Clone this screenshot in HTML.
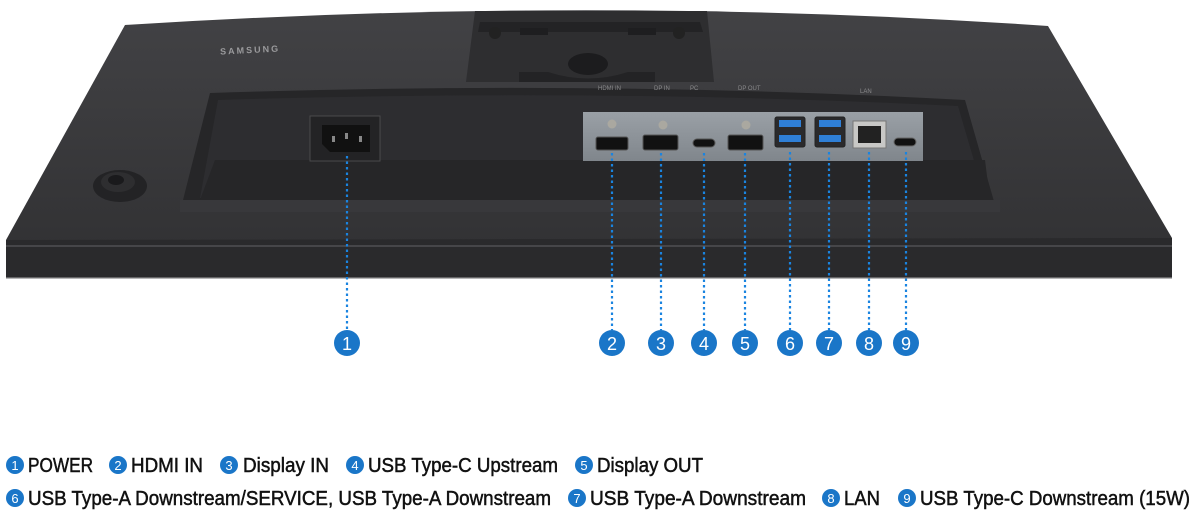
<!DOCTYPE html>
<html><head><meta charset="utf-8"><style>
html,body{margin:0;padding:0;background:#fff;width:1192px;height:520px;overflow:hidden}
svg{display:block}
text{font-family:"Liberation Sans",sans-serif}
</style></head><body>
<svg width="1192" height="520" viewBox="0 0 1192 520" xmlns="http://www.w3.org/2000/svg">
<defs>
<linearGradient id="bd" x1="0" y1="0" x2="0" y2="1"><stop offset="0" stop-color="#424245"/><stop offset="1" stop-color="#303032"/></linearGradient>
<linearGradient id="pn" x1="0" y1="0" x2="0" y2="1"><stop offset="0" stop-color="#9aa0a6"/><stop offset="1" stop-color="#80868c"/></linearGradient>
</defs>
<path d="M125,25 Q600,-5 1048,26 L1172,238 L1172,278 L6,278 L6,240 Z" fill="url(#bd)"/>
<path d="M6,240 L1172,238 L1172,278 L6,278 Z" fill="#2a2a2c"/>
<line x1="6" y1="246" x2="1172" y2="246" stroke="#505053" stroke-width="1.5"/>
<line x1="6" y1="278" x2="1172" y2="278" stroke="#8a8a8c" stroke-width="1.2"/>
<path d="M475,11 L707,11 L714,82 L466,82 Z" fill="#2e2e30"/>
<path d="M480,22 L700,22 L703,32 L478,32 Z" fill="#232325"/>
<rect x="520" y="28" width="28" height="7" fill="#1e1e20"/><rect x="628" y="28" width="28" height="7" fill="#1e1e20"/>
<circle cx="495" cy="33" r="6" fill="#222"/><circle cx="679" cy="33" r="6" fill="#222"/>
<ellipse cx="588" cy="64" rx="20" ry="11" fill="#1c1c1e"/>
<path d="M519,72 L548,72 Q588,85 628,72 L655,72 L655,82 L519,82 Z" fill="#232325"/>
<text x="220" y="52" font-size="9" fill="#9a9a9c" letter-spacing="2" font-weight="bold" transform="rotate(-3 270 48)">SAMSUNG</text>
<ellipse cx="120" cy="186" rx="27" ry="16" fill="#232325"/>
<ellipse cx="118" cy="182" rx="17" ry="10" fill="#2e2e30"/>
<ellipse cx="116" cy="180" rx="8" ry="5" fill="#1a1a1c"/>
<path d="M210,93 Q600,80 965,100 L995,205 L998,212 L180,212 Z" fill="#262628"/>
<path d="M218,100 Q600,88 958,106 L985,198 L200,198 Z" fill="#2d2d30"/>
<path d="M215,160 L985,160 L990,200 L200,200 Z" fill="#262628"/>
<rect x="180" y="200" width="820" height="12" fill="#38383b"/>
<rect x="310" y="116" width="70" height="45" fill="#232325" stroke="#4a4a4c"/>
<path d="M322,125 L370,125 L370,152 L330,152 L322,144 Z" fill="#111"/>
<rect x="332" y="136" width="3" height="6" fill="#888"/><rect x="345" y="133" width="3" height="6" fill="#888"/><rect x="359" y="136" width="3" height="6" fill="#888"/>
<rect x="583" y="112" width="340" height="49" fill="url(#pn)"/>
<g fill="#111" stroke="#555" stroke-width="1">
<rect x="596" y="137" width="32" height="13" rx="2"/>
<rect x="643" y="135" width="35" height="15" rx="2"/>
<rect x="693" y="139" width="22" height="8" rx="4"/>
<rect x="728" y="135" width="35" height="15" rx="2"/>
</g>
<circle cx="612" cy="124" r="4.5" fill="#aaa8a0"/><circle cx="663" cy="125" r="4.5" fill="#aaa8a0"/><circle cx="746" cy="125" r="4.5" fill="#aaa8a0"/>
<g fill="#2a2a2c" stroke="#222"><rect x="775" y="117" width="30" height="30" rx="2"/><rect x="815" y="117" width="30" height="30" rx="2"/></g>
<g fill="#2f7fd6"><rect x="779" y="120" width="22" height="7"/><rect x="779" y="135" width="22" height="7"/><rect x="819" y="120" width="22" height="7"/><rect x="819" y="135" width="22" height="7"/></g>
<rect x="853" y="121" width="33" height="27" fill="#c8c8c6" stroke="#777"/>
<rect x="858" y="126" width="23" height="17" fill="#222"/>
<rect x="894" y="138" width="22" height="8" rx="4" fill="#111" stroke="#666"/>
<g font-size="6" fill="#8a8a8c"><text x="598" y="90">HDMI IN</text><text x="654" y="90">DP IN</text><text x="690" y="90">PC</text><text x="738" y="90">DP OUT</text><text x="860" y="93">LAN</text></g>
<g stroke="#1a84e0" stroke-width="2.2" stroke-dasharray="2.5,3" fill="none">
<line x1="347" y1="156" x2="347" y2="330"/><line x1="612" y1="153" x2="612" y2="330"/><line x1="661" y1="153" x2="661" y2="330"/><line x1="704" y1="153" x2="704" y2="330"/><line x1="745" y1="153" x2="745" y2="330"/><line x1="790" y1="152" x2="790" y2="330"/><line x1="829" y1="152" x2="829" y2="330"/><line x1="869" y1="152" x2="869" y2="330"/><line x1="906" y1="152" x2="906" y2="330"/>
</g>
<g fill="#1a76c8"><circle cx="347" cy="343" r="13"/><circle cx="612" cy="343" r="13"/><circle cx="661" cy="343" r="13"/><circle cx="704" cy="343" r="13"/><circle cx="745" cy="343" r="13"/><circle cx="790" cy="343" r="13"/><circle cx="829" cy="343" r="13"/><circle cx="869" cy="343" r="13"/><circle cx="906" cy="343" r="13"/></g>
<g fill="#fff" font-size="18" text-anchor="middle"><text x="347" y="350">1</text><text x="612" y="350">2</text><text x="661" y="350">3</text><text x="704" y="350">4</text><text x="745" y="350">5</text><text x="790" y="350">6</text><text x="829" y="350">7</text><text x="869" y="350">8</text><text x="906" y="350">9</text></g>
<g fill="#1a76c8"><circle cx="15" cy="465" r="9"/><circle cx="118" cy="465" r="9"/><circle cx="229" cy="465" r="9"/><circle cx="355" cy="465" r="9"/><circle cx="584" cy="465" r="9"/><circle cx="15" cy="498" r="9"/><circle cx="577" cy="498" r="9"/><circle cx="831" cy="498" r="9"/><circle cx="907" cy="498" r="9"/></g>
<g fill="#fff" font-size="13" text-anchor="middle"><text x="15" y="470">1</text><text x="118" y="470">2</text><text x="229" y="470">3</text><text x="355" y="470">4</text><text x="584" y="470">5</text><text x="15" y="503">6</text><text x="577" y="503">7</text><text x="831" y="503">8</text><text x="907" y="503">9</text></g>
<g fill="#111" stroke="#111" stroke-width="0.5" font-size="20">
<text x="28" y="472" textLength="65" lengthAdjust="spacingAndGlyphs">POWER</text>
<text x="131" y="472" textLength="72" lengthAdjust="spacingAndGlyphs">HDMI IN</text>
<text x="243" y="472" textLength="86" lengthAdjust="spacingAndGlyphs">Display IN</text>
<text x="368" y="472" textLength="190" lengthAdjust="spacingAndGlyphs">USB Type-C Upstream</text>
<text x="597" y="472" textLength="106" lengthAdjust="spacingAndGlyphs">Display OUT</text>
<text x="28" y="505" textLength="523" lengthAdjust="spacingAndGlyphs">USB Type-A Downstream/SERVICE, USB Type-A Downstream</text>
<text x="590" y="505" textLength="216" lengthAdjust="spacingAndGlyphs">USB Type-A Downstream</text>
<text x="844" y="505" textLength="36" lengthAdjust="spacingAndGlyphs">LAN</text>
<text x="920" y="505" textLength="270" lengthAdjust="spacingAndGlyphs">USB Type-C Downstream (15W)</text>
</g>
</svg>
</body></html>
